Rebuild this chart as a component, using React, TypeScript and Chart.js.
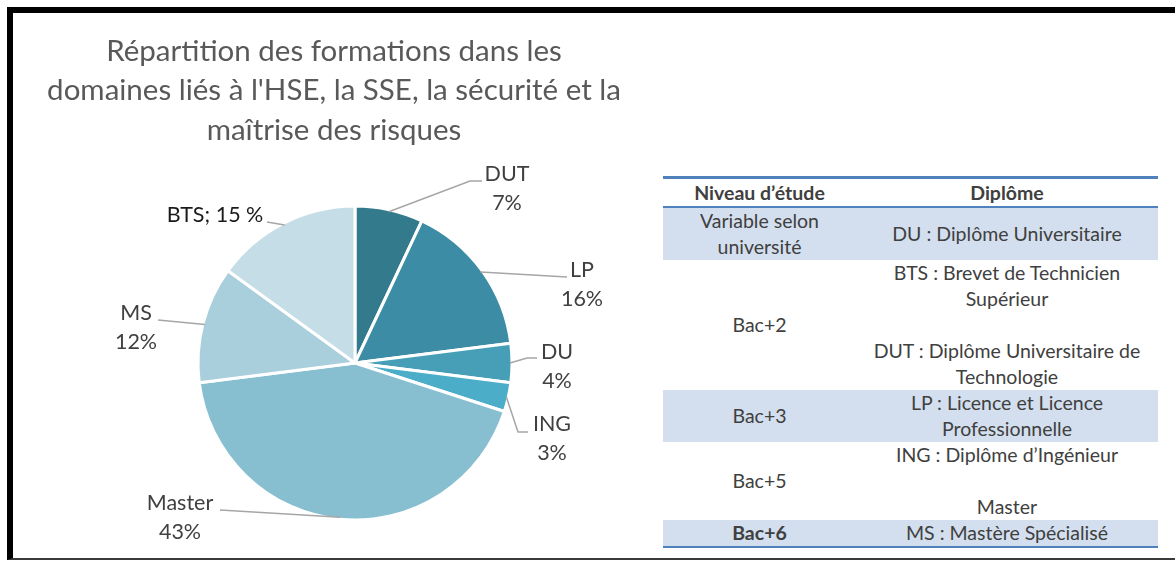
import React, { useEffect, useRef } from "react";
import { Chart, registerables } from "chart.js";

Chart.register(...registerables);

// ---- chart data ----
const categories = ["DUT", "LP", "DU", "ING", "Master", "MS", "BTS"];
const shares = [7, 16, 4, 3, 43, 12, 15];
const sliceColors = ["#327a8c", "#3d8ca5", "#469fb7", "#4badc7", "#87bfd1", "#aacfdc", "#c4dde6"];

const titleLines = [
  "Répartition des formations dans les",
  "domaines liés à l'HSE, la SSE, la sécurité et la",
  "maîtrise des risques",
];

// label placement relative to the pie centre (annotation layout, not data)
type LabelPlace = { elbow?: [number, number]; end: [number, number]; text: [number, number]; single?: boolean; color: string };
const labelPlaces: LabelPlace[] = [
  { elbow: [115, -182], end: [127, -182], text: [152, -189], color: "#404040" },
  { end: [212, -86], text: [227, -93], color: "#404040" },
  { elbow: [172, -5], end: [182, -5], text: [202, -11], color: "#404040" },
  { elbow: [163, 69], end: [173, 69], text: [197, 61], color: "#404040" },
  { end: [-135, 147], text: [-175, 140], color: "#404040" },
  { end: [-197, -43], text: [-219, -50], color: "#404040" },
  { end: [-88, -141], text: [-140, -148], single: true, color: "#1a1a1a" },
];

// ---- table data ----
const tableHeaders = ["Niveau d\u2019étude", "Diplôme"];
const tableLevels = ["Variable selon\nuniversité", "Bac+2", "Bac+3", "Bac+5", "Bac+6"];
const tableDiplomas = [
  ["DU : Diplôme Universitaire"],
  ["BTS : Brevet de Technicien", "Supérieur", "", "DUT : Diplôme Universitaire de", "Technologie"],
  ["LP : Licence et Licence", "Professionnelle"],
  ["ING : Diplôme d\u2019Ingénieur", "", "Master"],
  ["MS : Mastère Spécialisé"],
];
const tableShaded = [true, false, true, false, true];
const tableBoldLevel = [false, false, false, false, true];

const FONT = "Lato, 'Open Sans', sans-serif";

const pieLabelPlugin = {
  id: "pieLabels",
  afterDatasetsDraw(chart: any) {
    const ctx = chart.ctx as CanvasRenderingContext2D;
    const meta = chart.getDatasetMeta(0);
    ctx.save();
    meta.data.forEach((arc: any, i: number) => {
      const p = arc.getProps(["x", "y", "startAngle", "endAngle", "outerRadius"], true);
      const mid = (p.startAngle + p.endAngle) / 2;
      const sx = p.x + Math.cos(mid) * (p.outerRadius - 2);
      const sy = p.y + Math.sin(mid) * (p.outerRadius - 2);
      const L = labelPlaces[i];
      ctx.beginPath();
      ctx.strokeStyle = "#a6a6a6";
      ctx.lineWidth = 1.5;
      ctx.moveTo(sx, sy);
      if (L.elbow) ctx.lineTo(p.x + L.elbow[0], p.y + L.elbow[1]);
      ctx.lineTo(p.x + L.end[0], p.y + L.end[1]);
      ctx.stroke();

      ctx.fillStyle = L.color;
      ctx.font = `21.5px ${FONT}`;
      ctx.textAlign = "center";
      ctx.textBaseline = "middle";
      const cat = categories[i];
      const v = shares[i];
      const lines = L.single ? [`${cat}; ${v} %`] : [cat, `${v}%`];
      lines.forEach((t, k) => {
        ctx.fillText(t, p.x + L.text[0], p.y + L.text[1] + k * 29);
      });
    });
    ctx.restore();
  },
  afterDraw(chart: any) {
    const ctx = chart.ctx as CanvasRenderingContext2D;
    ctx.save();
    ctx.fillStyle = "#595959";
    ctx.font = `29.5px ${FONT}`;
    ctx.textAlign = "center";
    ctx.textBaseline = "middle";
    titleLines.forEach((t, k) => ctx.fillText(t, 334, 51 + k * 39.5));
    ctx.restore();
  },
};

function PieChart() {
  const ref = useRef<HTMLCanvasElement | null>(null);
  useEffect(() => {
    if (!ref.current) return;
    const chart = new Chart(ref.current, {
      type: "pie",
      data: {
        labels: categories,
        datasets: [
          {
            data: shares,
            backgroundColor: sliceColors,
            borderColor: "#ffffff",
            borderWidth: 3,
          },
        ],
      },
      options: {
        animation: false,
        responsive: false,
        radius: 157,
        layout: { padding: { left: 200, right: 150, top: 208, bottom: 43 } },
        plugins: {
          legend: { display: false },
          tooltip: { enabled: false },
          title: { display: false },
        },
      } as any,
      plugins: [pieLabelPlugin],
    });
    return () => chart.destroy();
  }, []);
  return (
    <canvas
      ref={ref}
      width={660}
      height={561}
      style={{ position: "absolute", left: 0, top: 0, width: 660, height: 561 }}
    />
  );
}

function InfoTable() {
  const lh = 26;
  const col1 = 193;
  return (
    <div
      style={{
        position: "absolute",
        left: 663,
        top: 176,
        width: 495,
        fontFamily: FONT,
        fontSize: 19.5,
        color: "#404040",
        lineHeight: `${lh}px`,
        textAlign: "center",
      }}
    >
      <div
        style={{
          display: "flex",
          borderTop: "3px solid #4f81bd",
          borderBottom: "2px solid #4f81bd",
          fontWeight: 700,
          height: 27,
          alignItems: "center",
        }}
      >
        <div style={{ width: col1 }}>{tableHeaders[0]}</div>
        <div style={{ flex: 1 }}>{tableHeaders[1]}</div>
      </div>
      {tableLevels.map((lvl, i) => (
        <div
          key={i}
          style={{
            display: "flex",
            alignItems: "center",
            background: tableShaded[i] ? "#d3dfee" : "transparent",
          }}
        >
          <div style={{ width: col1, fontWeight: tableBoldLevel[i] ? 700 : 400 }}>
            {lvl.split("\n").map((t, k) => (
              <div key={k}>{t}</div>
            ))}
          </div>
          <div style={{ flex: 1, whiteSpace: "nowrap" }}>
            {tableDiplomas[i].map((t, k) => (
              <div key={k} style={{ height: lh }}>{t}</div>
            ))}
          </div>
        </div>
      ))}
      <div style={{ borderTop: "2px solid #4f81bd" }} />
    </div>
  );
}

export default function App() {
  return (
    <div style={{ position: "fixed", left: 0, top: 0, width: 1175, height: 561, background: "#fff", overflow: "hidden" }}>
      <div
        style={{
          position: "absolute",
          left: 7,
          top: 7,
          width: 1175,
          height: 553,
          boxSizing: "border-box",
          borderTop: "6px solid #000",
          borderLeft: "6px solid #000",
          borderBottom: "2px solid #3a3a3a",
        }}
      />
      <PieChart />
      <InfoTable />
    </div>
  );
}
